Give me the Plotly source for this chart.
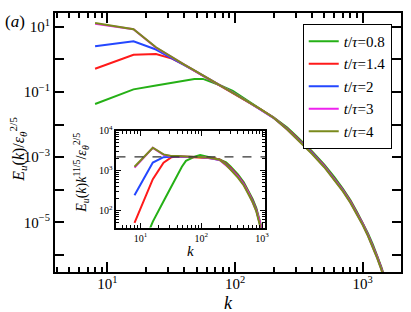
import plotly.graph_objects as go

# wavenumbers (shared by all spectra)
k = [8, 16, 24, 32, 40, 48, 56, 64, 80, 96, 128, 160, 200, 256, 300, 400,
     500, 600, 700, 800, 900, 1000, 1100, 1200, 1300, 1400, 1500]

# E_u(k)/eps_theta^{2/5} for each time
E_t08 = [4.27e-2, 1.20e-1, 1.58e-1, 1.95e-1, 2.29e-1, 2.51e-1, 2.51e-1, 2.09e-1, 1.48e-1, 1.07e-1,
         5.01e-2, 2.88e-2, 1.66e-2, 8.17e-3, 4.57e-3, 1.53e-3, 5.91e-4, 2.45e-4, 1.07e-4, 4.82e-5,
         2.14e-5, 1.00e-5, 4.56e-6, 2.12e-6, 9.53e-7, 4.25e-7, 1.83e-7]
E_t14 = [5.13e-1, 1.38, 1.45, 1.05, 6.76e-1, 4.48e-1, 3.19e-1, 2.38e-1, 1.42e-1, 9.53e-2,
         4.94e-2, 2.89e-2, 1.65e-2, 7.62e-3, 4.26e-3, 1.42e-3, 5.52e-4, 2.28e-4, 1.00e-4, 4.50e-5,
         2.00e-5, 9.33e-6, 4.25e-6, 1.98e-6, 8.89e-7, 3.97e-7, 1.71e-7]
E_t2 = [2.51, 3.59, 2.00, 1.10, 6.84e-1, 4.48e-1, 3.19e-1, 2.38e-1, 1.42e-1, 9.53e-2,
        4.83e-2, 2.82e-2, 1.61e-2, 7.28e-3, 4.07e-3, 1.36e-3, 5.27e-4, 2.18e-4, 9.57e-5, 4.30e-5,
        1.91e-5, 8.91e-6, 4.06e-6, 1.89e-6, 8.49e-7, 3.79e-7, 1.63e-7]
E_t3 = [12.3, 8.32, 2.29, 1.12, 6.84e-1, 4.48e-1, 3.19e-1, 2.38e-1, 1.42e-1, 9.53e-2,
        4.83e-2, 2.82e-2, 1.61e-2, 7.03e-3, 3.93e-3, 1.31e-3, 5.09e-4, 2.11e-4, 9.24e-5, 4.15e-5,
        1.85e-5, 8.61e-6, 3.92e-6, 1.83e-6, 8.20e-7, 3.66e-7, 1.57e-7]
E_t4 = [12.9, 8.41, 2.34, 1.14, 6.92e-1, 4.57e-1, 3.24e-1, 2.43e-1, 1.45e-1, 9.77e-2,
        4.90e-2, 2.85e-2, 1.62e-2, 7.08e-3, 3.89e-3, 1.27e-3, 4.92e-4, 2.03e-4, 8.93e-5, 4.01e-5,
        1.78e-5, 8.32e-6, 3.79e-6, 1.76e-6, 7.92e-7, 3.54e-7, 1.52e-7]

series_labels = ["0.8", "1.4", "2", "3", "4"]
series_values = [E_t08, E_t14, E_t2, E_t3, E_t4]
series_colors = ["#25b016", "#ff1a1a", "#2447ff", "#ee22ee", "#7a8a1c"]

comp_exponent = 11 / 5
ref_level = 2200  # dashed reference level in inset

main_xticks = [10, 100, 1000]
main_xticktext = ["10<sup>1</sup>", "10<sup>2</sup>", "10<sup>3</sup>"]
main_yticks = [1e1, 1e0, 1e-1, 1e-2, 1e-3, 1e-4, 1e-5, 1e-6]
main_yticktext = ["10<sup>1</sup>", "", "10<sup>−1</sup>", "", "10<sup>−3</sup>", "", "10<sup>−5</sup>", ""]
inset_yticks = [100, 1000, 10000]
inset_yticktext = ["10<sup>2</sup>", "10<sup>3</sup>", "10<sup>4</sup>"]

minor_x = [m * d for d in (1, 10, 100, 1000) for m in range(2, 10)]
minor_y_inset = [m * d for d in (10, 100, 1000) for m in range(2, 10)]

FONT = "Liberation Serif, Times New Roman, serif"

fig = go.Figure()
for lab, vals, col in zip(series_labels, series_values, series_colors):
    fig.add_trace(go.Scatter(x=k, y=vals, mode="lines", line=dict(color=col, width=2),
                             name=f"<i>t</i>/<i>τ</i>={lab}", xaxis="x", yaxis="y"))
for lab, vals, col in zip(series_labels, series_values, series_colors):
    comp = [v * kk ** comp_exponent for v, kk in zip(vals, k)]
    fig.add_trace(go.Scatter(x=k, y=comp, mode="lines", line=dict(color=col, width=2),
                             showlegend=False, xaxis="x2", yaxis="y2"))

fig.add_shape(type="line", xref="x2 domain", yref="y2", x0=0, x1=1, y0=ref_level, y1=ref_level,
              line=dict(color="#333333", width=1.3, dash="dash"))

axis_common = dict(showline=True, linecolor="black", linewidth=2, mirror="allticks",
                   ticks="inside", tickcolor="black", showgrid=False, zeroline=False,
                   tickmode="array", type="log")

fig.update_layout(
    width=411, height=312,
    margin=dict(l=55, r=6, t=10, b=40),
    paper_bgcolor="white", plot_bgcolor="white",
    font=dict(family=FONT, color="black", size=14),
    xaxis=dict(**axis_common, range=[0.589, 3.30], tickvals=main_xticks, ticktext=main_xticktext,
               ticklen=10, tickwidth=1.5, tickfont=dict(size=15), ticklabelstandoff=-3,
               minor=dict(tickmode="array", tickvals=minor_x, ticklen=5, tickwidth=1.5,
                          ticks="inside", tickcolor="black")),
    yaxis=dict(**axis_common, range=[-6.52, 1.42], tickvals=main_yticks, ticktext=main_yticktext,
               ticklen=9, tickwidth=1.5, tickfont=dict(size=15)),
    xaxis2=dict(**axis_common, domain=[0.1777, 0.6074], anchor="y2", range=[0.607, 3.05],
                tickvals=main_xticks, ticktext=main_xticktext, ticklen=5, tickwidth=1.2,
                tickfont=dict(size=10),
                minor=dict(tickmode="array", tickvals=minor_x, ticklen=3, tickwidth=1,
                           ticks="inside", tickcolor="black")),
    yaxis2=dict(**axis_common, domain=[0.1718, 0.5458], anchor="x2", range=[1.58, 4.0],
                tickvals=inset_yticks, ticktext=inset_yticktext, ticklen=5, tickwidth=1.2,
                tickfont=dict(size=10),
                minor=dict(tickmode="array", tickvals=minor_y_inset, ticklen=3, tickwidth=1,
                           ticks="inside", tickcolor="black")),
    legend=dict(x=0.716, y=0.958, xanchor="left", yanchor="top", bgcolor="white",
                bordercolor="black", borderwidth=1, font=dict(size=15, family=FONT),
                tracegroupgap=0, itemwidth=30),
    showlegend=True,
)

ann = [
    dict(text="(<i>a</i>)", x=-0.115, y=0.969, font=dict(size=17)),
    dict(text="<i>E<sub>u</sub></i>(<i>k</i>)/<i>ε</i><sub><i>θ</i></sub><sup>2/5</sup>",
         x=-0.106, y=0.473, textangle=-90, font=dict(size=16)),
    dict(text="<i>k</i>", x=0.501, y=-0.1183, font=dict(size=18)),
    dict(text="<i>k</i>", x=0.3926, y=0.080, font=dict(size=15)),
    dict(text="<i>E<sub>u</sub></i>(<i>k</i>)<i>k</i><sup>11/5</sup>/<i>ε</i><sub><i>θ</i></sub><sup>2/5</sup>",
         x=0.0745, y=0.382, textangle=-90, font=dict(size=14)),
]
for a in ann:
    fig.add_annotation(xref="paper", yref="paper", showarrow=False, xanchor="center",
                       yanchor="middle", **a)

fig.write_html("out.html", config={"displayModeBar": False},
               post_script="document.body.style.margin='0';")
